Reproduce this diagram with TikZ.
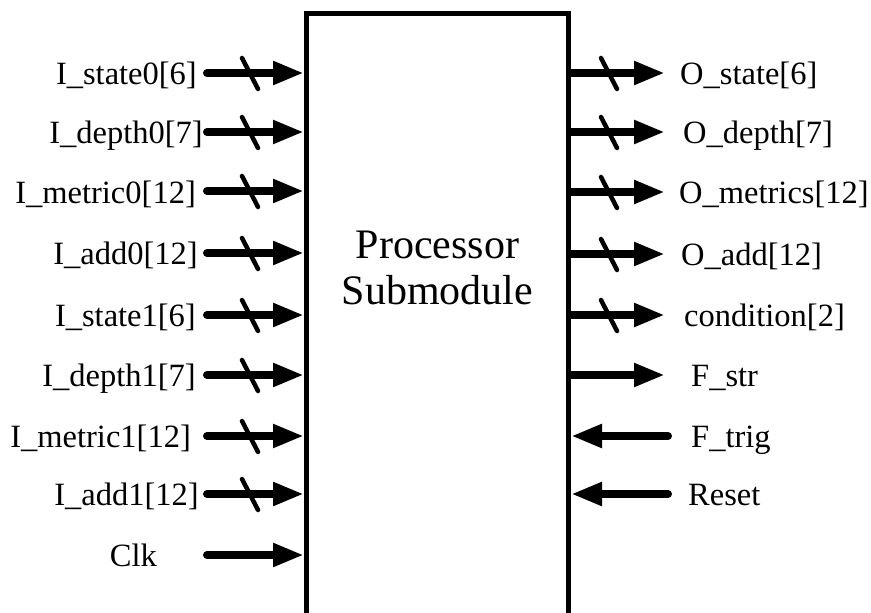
\documentclass[tikz,border=0pt]{standalone}
\usepackage{fontspec}
\setmainfont{Liberation Serif}
\usetikzlibrary{arrows.meta,calc}

\begin{document}
\begin{tikzpicture}[x=1pt,y=-1pt,
  lbl/.style={inner sep=0pt, font=\fontsize{32.5}{37}\selectfont},
  lin/.style={lbl, anchor=base east},
  lout/.style={lbl, anchor=base west},
  ttl/.style={inner sep=0pt, anchor=base, font=\fontsize{42}{48}\selectfont},
  sig/.style={line width=8pt, line cap=round, -{Triangle[length=31pt,width=22pt]}},
  bus/.style={line width=4.5pt, line cap=round},
  block/.style={draw, line width=5pt, minimum width=262pt, minimum height=650pt, inner sep=0pt}]
\useasboundingbox (0,0) rectangle (871,613);
\clip (0,0) rectangle (871,613);

% the processor block (runs past the lower edge)
\node[block, anchor=north west] (proc) at (304,11) {};
\node[ttl] (t1) at (437.5,258) {Processor};
\node[ttl] (t2) at (437.5,304) {Submodule};

% input ports
\node[lin] (i1) at (197,84) {I\_state0[6]};
\node[lin] (i2) at (203,143) {I\_depth0[7]};
\node[lin] (i3) at (196,203) {I\_metric0[12]};
\node[lin] (i4) at (198,264) {I\_add0[12]};
\node[lin] (i5) at (196,326) {I\_state1[6]};
\node[lin] (i6) at (196,386) {I\_depth1[7]};
\node[lin] (i7) at (191,447) {I\_metric1[12]};
\node[lin] (i8) at (199,505) {I\_add1[12]};
\node[lin] (i9) at (157,566) {Clk};

\foreach \k/\y in {1/73,2/132,3/191,4/253,5/315,6/375,7/436,8/494,9/555}{
  \coordinate (ti\k) at (207,\y);
  \draw[sig] (ti\k) -- (ti\k -| proc.west);
}
% bus width marks on the inputs
\foreach \k in {1,...,8}{
  \coordinate (bi\k) at ($(ti\k)+(43,0)$);
  \draw[bus] ($(bi\k)+(-8,-15)$) -- ($(bi\k)+(8,16)$);
}

% output ports
\node[lout] (o1) at (680,84) {O\_state[6]};
\node[lout] (o2) at (683,143) {O\_depth[7]};
\node[lout] (o3) at (679,203) {O\_metrics[12]};
\node[lout] (o4) at (681,265) {O\_add[12]};
\node[lout] (o5) at (684,326) {condition[2]};
\node[lout] (o6) at (691,386) {F\_str};
\node[lout] (o7) at (691,447) {F\_trig};
\node[lout] (o8) at (688,505) {Reset};

\foreach \k/\y in {1/73,2/132,3/192,4/254,5/315,6/375}{
  \coordinate (ho\k) at (665,\y);
  \draw[sig] (ho\k -| proc.east) -- (ho\k);
}
\foreach \k in {1,...,5}{
  \coordinate (bo\k) at ($(ho\k)+(-56,0)$);
  \draw[bus] ($(bo\k)+(-8,-15)$) -- ($(bo\k)+(8,16)$);
}

% inputs entering from the right
\foreach \k/\y in {7/436,8/494}{
  \coordinate (ro\k) at (668,\y);
  \draw[sig] (ro\k) -- (ro\k -| proc.east);
}
\end{tikzpicture}
\end{document}
